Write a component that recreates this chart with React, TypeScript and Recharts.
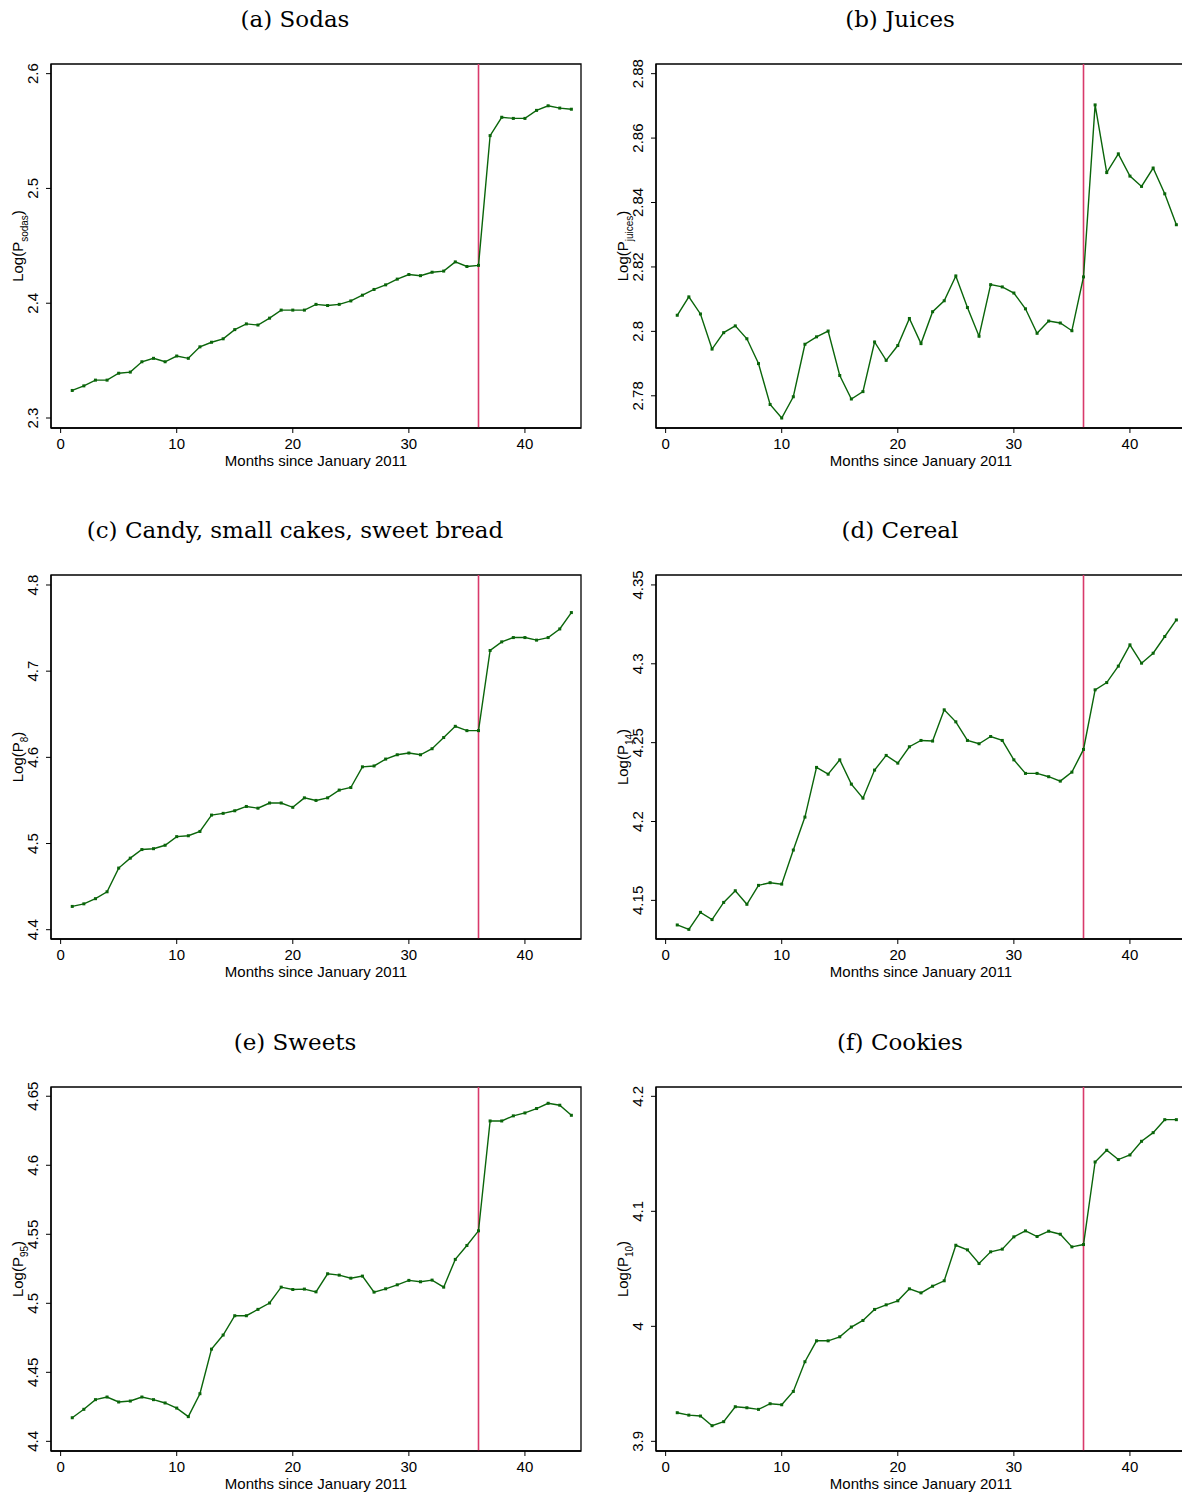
import React from 'react';
import { LineChart, Line, XAxis, YAxis, ReferenceLine, ReferenceArea } from 'recharts';

const months = [1,2,3,4,5,6,7,8,9,10,11,12,13,14,15,16,17,18,19,20,21,22,23,24,25,26,27,28,29,30,31,32,33,34,35,36,37,38,39,40,41,42,43,44];

const sodas = [2.324,2.328,2.333,2.333,2.339,2.340,2.349,2.352,2.349,2.354,2.352,2.362,2.366,2.369,2.377,2.382,2.381,2.387,2.394,2.394,2.394,2.399,2.398,2.399,2.402,2.407,2.412,2.416,2.421,2.425,2.424,2.427,2.428,2.436,2.432,2.433,2.546,2.562,2.561,2.561,2.568,2.572,2.570,2.569];
const juices = [2.805,2.8107,2.8054,2.7945,2.7996,2.8017,2.7977,2.790,2.7773,2.7731,2.7797,2.796,2.7983,2.8001,2.7863,2.779,2.7813,2.7967,2.791,2.7956,2.804,2.7962,2.8061,2.8095,2.8172,2.8074,2.7985,2.8145,2.8138,2.8119,2.807,2.7994,2.8032,2.8026,2.8002,2.8169,2.8703,2.8493,2.8551,2.8482,2.845,2.8507,2.8427,2.8331];
const candy = [4.427,4.430,4.436,4.444,4.4715,4.483,4.493,4.494,4.498,4.508,4.509,4.514,4.533,4.535,4.538,4.543,4.541,4.547,4.547,4.542,4.553,4.550,4.553,4.562,4.565,4.589,4.590,4.598,4.603,4.605,4.603,4.610,4.623,4.636,4.631,4.631,4.724,4.734,4.739,4.739,4.736,4.739,4.749,4.768];
const cereal = [4.1344,4.1316,4.1424,4.1378,4.1487,4.1561,4.1475,4.1595,4.1612,4.1603,4.1819,4.2028,4.2343,4.2300,4.2391,4.2237,4.2148,4.2326,4.2419,4.2370,4.2474,4.2514,4.2510,4.2708,4.2632,4.2514,4.2493,4.2539,4.2514,4.2391,4.2305,4.2305,4.2284,4.2256,4.2313,4.2457,4.2835,4.2881,4.2985,4.3120,4.3004,4.3067,4.3173,4.3278];
const sweets = [4.4171,4.4232,4.4302,4.4321,4.4285,4.4292,4.4321,4.4302,4.4278,4.4241,4.4179,4.4345,4.4668,4.4770,4.4910,4.4910,4.4956,4.5002,4.5117,4.5100,4.5103,4.5083,4.5214,4.5204,4.5182,4.5197,4.5081,4.5105,4.5134,4.5166,4.5156,4.5168,4.5117,4.5318,4.5419,4.5525,4.6321,4.6321,4.6358,4.6379,4.6411,4.6449,4.6435,4.6362];
const cookies = [3.9249,3.9228,3.9220,3.9136,3.9171,3.9301,3.9292,3.9278,3.9327,3.9318,3.9434,3.9692,3.9874,3.9874,3.9909,3.9994,4.0051,4.0147,4.0187,4.0222,4.0326,4.0291,4.0349,4.0396,4.0705,4.0665,4.0546,4.0648,4.0671,4.0778,4.0830,4.0781,4.0827,4.0801,4.0691,4.0711,4.1429,4.1531,4.1450,4.1490,4.1609,4.1684,4.1797,4.1797];

const xTicks = [0, 10, 20, 30, 40];
const sodasTicks = [2.3, 2.4, 2.5, 2.6];
const juicesTicks = [2.78, 2.8, 2.82, 2.84, 2.86, 2.88];
const candyTicks = [4.4, 4.5, 4.6, 4.7, 4.8];
const cerealTicks = [4.15, 4.2, 4.25, 4.3, 4.35];
const sweetsTicks = [4.4, 4.45, 4.5, 4.55, 4.6, 4.65];
const cookiesTicks = [3.9, 4, 4.1, 4.2];

const titles = ['(a) Sodas', '(b) Juices', '(c) Candy, small cakes, sweet bread', '(d) Cereal', '(e) Sweets', '(f) Cookies'];
const subscripts = ['sodas', 'juices', '8', '14', '95', '10'];
const xLabel = 'Months since January 2011';
const policyMonth = 36;
const xDomain: [number, number] = [-0.83, 44.83];

const SANS = '"Liberation Sans", Arial, Helvetica, sans-serif';
const SERIF = '"DejaVu Serif", serif';
const GREEN = '#0a650a';
const RED = '#d93a6b';

const CHART_W = 600;
const CHART_H = 440;
const M_TOP = 24;
const Y_W = 51;
const PLOT_W = 530;
const PLOT_H = 364;
const M_RIGHT = CHART_W - Y_W - PLOT_W;
const X_H = CHART_H - M_TOP - PLOT_H;

const XTick = (props: any) => {
  const { x, payload } = props;
  return (
    <text x={x} y={M_TOP + PLOT_H + 21} textAnchor="middle" fontSize={15} fontFamily={SANS} fill="#000">
      {String(payload.value)}
    </text>
  );
};

const YTick = (props: any) => {
  const { y, payload } = props;
  const bx = 38;
  return (
    <text x={bx} y={y} transform={`rotate(-90, ${bx}, ${y})`} textAnchor="middle" fontSize={15} fontFamily={SANS} fill="#000">
      {String(payload.value)}
    </text>
  );
};

const XTitle = () => (
  <text x={Y_W + PLOT_W / 2} y={M_TOP + PLOT_H + 38} textAnchor="middle" fontSize={15} fontFamily={SANS} fill="#000">
    {xLabel}
  </text>
);

const makeYTitle = (sub: string) => () => {
  const cy = M_TOP + PLOT_H / 2;
  return (
    <text transform="rotate(-90)" x={-cy} y={23} textAnchor="middle" fontSize={15} fontFamily={SANS} fill="#000">
      <tspan>Log(P</tspan>
      <tspan fontSize={10} dy={5}>{sub}</tspan>
      <tspan dy={-5}>)</tspan>
    </text>
  );
};

const SquareDot = (props: any) => {
  const { cx, cy, index } = props;
  if (cx == null || cy == null) return <g key={`d${index}`} />;
  return <rect key={`d${index}`} x={cx - 1.5} y={cy - 1.5} width={3} height={3} fill={GREEN} />;
};

type PanelProps = {
  left: number;
  top: number;
  title: string;
  values: number[];
  ticks: number[];
  domain: [number, number];
  sub: string;
};

function Panel({ left, top, title, values, ticks, domain, sub }: PanelProps) {
  const data = months.map((m, i) => ({ m, v: values[i] }));
  const YTitle = makeYTitle(sub);
  return (
    <>
      <div
        style={{
          position: 'absolute',
          left,
          top: top - 32,
          width: 590,
          textAlign: 'center',
          fontFamily: SERIF,
          fontSize: 23,
          lineHeight: '23px',
          color: '#000',
          whiteSpace: 'nowrap',
        }}
      >
        {title}
      </div>
      <div style={{ position: 'absolute', left, top }}>
        <LineChart width={CHART_W} height={CHART_H} data={data} margin={{ top: M_TOP, right: M_RIGHT, left: 0, bottom: 0 }}>
          <XAxis
            dataKey="m"
            type="number"
            domain={xDomain}
            ticks={xTicks}
            allowDataOverflow
            height={X_H}
            tickSize={5}
            tick={<XTick />}
            tickLine={{ stroke: '#000', strokeWidth: 1 }}
            axisLine={{ stroke: '#000', strokeWidth: 1.3 }}
            label={<XTitle />}
          />
          <YAxis
            type="number"
            domain={domain}
            ticks={ticks}
            allowDataOverflow
            width={Y_W}
            tickSize={5}
            tick={<YTick />}
            tickLine={{ stroke: '#000', strokeWidth: 1 }}
            axisLine={{ stroke: '#000', strokeWidth: 1.3 }}
            label={<YTitle />}
          />
          <ReferenceArea
            x1={xDomain[0]}
            x2={xDomain[1]}
            y1={domain[0]}
            y2={domain[1]}
            fill="none"
            fillOpacity={0}
            stroke="#000"
            strokeWidth={1.3}
            ifOverflow="visible"
          />
          <ReferenceLine x={policyMonth} stroke={RED} strokeWidth={1.6} ifOverflow="visible" />
          <Line
            type="linear"
            dataKey="v"
            stroke={GREEN}
            strokeWidth={1.4}
            dot={SquareDot}
            activeDot={false}
            isAnimationActive={false}
          />
        </LineChart>
      </div>
    </>
  );
}

const COL = [0, 605];
const ROW = [40, 551, 1063];

export default function App() {
  return (
    <div style={{ position: 'absolute', left: 0, top: 0, width: 1182, height: 1494, overflow: 'hidden', background: '#fff' }}>
      <Panel left={COL[0]} top={ROW[0]} title={titles[0]} values={sodas} ticks={sodasTicks} domain={[2.2913, 2.6084]} sub={subscripts[0]} />
      <Panel left={COL[1]} top={ROW[0]} title={titles[1]} values={juices} ticks={juicesTicks} domain={[2.77, 2.883]} sub={subscripts[1]} />
      <Panel left={COL[0]} top={ROW[1]} title={titles[2]} values={candy} ticks={candyTicks} domain={[4.3892, 4.8116]} sub={subscripts[2]} />
      <Panel left={COL[1]} top={ROW[1]} title={titles[3]} values={cereal} ticks={cerealTicks} domain={[4.1255, 4.3563]} sub={subscripts[3]} />
      <Panel left={COL[0]} top={ROW[2]} title={titles[4]} values={sweets} ticks={sweetsTicks} domain={[4.393, 4.6567]} sub={subscripts[4]} />
      <Panel left={COL[1]} top={ROW[2]} title={titles[5]} values={cookies} ticks={cookiesTicks} domain={[3.8916, 4.2081]} sub={subscripts[5]} />
    </div>
  );
}
